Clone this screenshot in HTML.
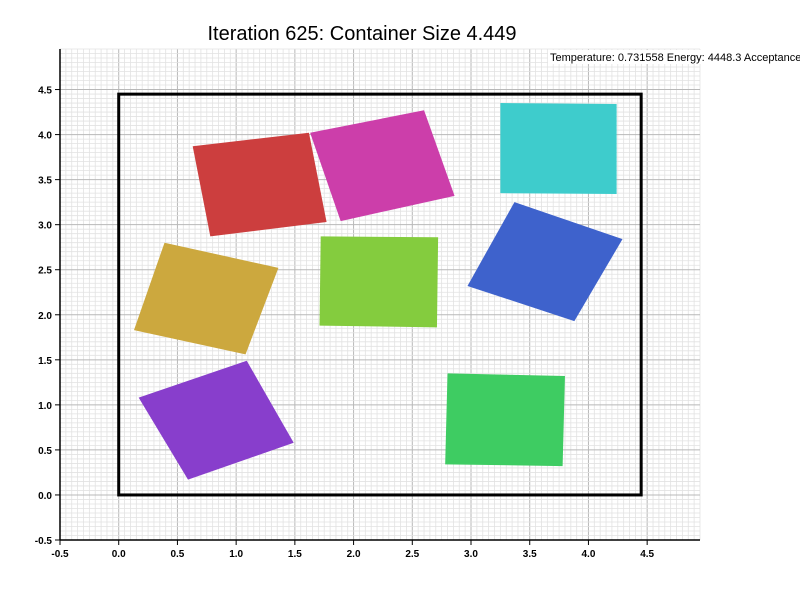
<!DOCTYPE html>
<html><head><meta charset="utf-8"><style>
body{margin:0;background:#fff;width:800px;height:600px;overflow:hidden;font-family:"Liberation Sans",Arial,sans-serif}
</style></head><body>
<svg id="chart" width="800" height="600" xmlns="http://www.w3.org/2000/svg">
<g id="grid"></g><g id="shapes"></g><g id="axes"></g>
<text x="362" y="40" text-anchor="middle" font-size="20" fill="#000">Iteration 625: Container Size 4.449</text>
<rect x="548" y="50" width="252" height="14" fill="#fff"/>
<text x="550" y="61" font-size="11" fill="#000">Temperature: 0.731558 Energy: 4448.3 Acceptance</text>
</svg>
<script>
const xTicks=[-0.5,0,0.5,1,1.5,2,2.5,3,3.5,4,4.5];
const yTicks=[-0.5,0,0.5,1,1.5,2,2.5,3,3.5,4,4.5];
const containerSize=4.449;
const shapeColors=["#cc3e3e","#cc3eaa","#3ecccc","#cca83e","#84cc3e","#3e62cc","#883ecc","#3ecc62"];
const shapeXs=[[0.63,1.62,1.77,0.78],[1.63,2.60,2.86,1.89],[3.25,4.24,4.24,3.25],[0.39,1.36,1.08,0.13],[1.72,2.72,2.71,1.71],[3.37,4.29,3.88,2.97],[0.17,1.09,1.49,0.59],[2.80,3.80,3.78,2.78]];
const shapeYs=[[3.87,4.02,3.03,2.87],[4.02,4.27,3.32,3.04],[4.35,4.34,3.34,3.35],[2.80,2.52,1.56,1.83],[2.87,2.86,1.86,1.88],[3.25,2.84,1.93,2.32],[1.08,1.49,0.58,0.17],[1.35,1.32,0.32,0.34]];
const X0=-0.5,X1=4.95,Y0=-0.5,Y1=4.95,L=60,R=700,T=49,B=540;
const sx=v=>L+(v-X0)/(X1-X0)*(R-L), sy=v=>B-(v-Y0)/(Y1-Y0)*(B-T);
const NS="http://www.w3.org/2000/svg";
function mk(p,t,a){const e=document.createElementNS(NS,t);for(const k in a)e.setAttribute(k,a[k]);p.appendChild(e);return e;}
const grid=document.getElementById('grid'),shapes=document.getElementById('shapes'),axes=document.getElementById('axes');
for(let i=0;i<=109;i++){const v=X0+i*0.05;const maj=i%10==0;const x=sx(v);
 const l=mk(grid,'line',{x1:x,x2:x,y1:T,y2:B,stroke:maj?'#b8b8b8':'#e2e2e2','stroke-width':maj?1:0.8});
 }
for(let i=0;i<=109;i++){const v=Y0+i*0.05;const maj=i%10==0;const y=sy(v);
 const l=mk(grid,'line',{x1:L,x2:R,y1:y,y2:y,stroke:maj?'#b8b8b8':'#e2e2e2','stroke-width':maj?1:0.8});
 }
const box=mk(shapes,'rect',{x:sx(0),y:sy(containerSize),width:sx(containerSize)-sx(0),height:sy(0)-sy(containerSize),fill:'none',stroke:'#000','stroke-width':3});


shapeXs.forEach((xs,i)=>{const pts=xs.map((x,j)=>sx(x)+','+sy(shapeYs[i][j])).join(' ');
 const p=mk(shapes,'polygon',{points:pts,fill:shapeColors[i]});
 
 });
const ax=mk(axes,'line',{x1:L,x2:R,y1:B,y2:B,stroke:'#000','stroke-width':1.5});

const ay=mk(axes,'line',{x1:L,x2:L,y1:T,y2:B,stroke:'#000','stroke-width':1.5});

xTicks.forEach(v=>{const x=sx(v);mk(axes,'line',{x1:x,x2:x,y1:B,y2:B+5,stroke:'#000'});
 const t=mk(axes,'text',{x:x,y:B+17,'text-anchor':'middle','font-size':10,'font-weight':'bold',fill:'#000'});t.textContent=v.toFixed(1);
 });
yTicks.forEach(v=>{const y=sy(v);mk(axes,'line',{x1:L-5,x2:L,y1:y,y2:y,stroke:'#000'});
 const t=mk(axes,'text',{x:L-8,y:y+4,'text-anchor':'end','font-size':10,'font-weight':'bold',fill:'#000'});t.textContent=v.toFixed(1);
 });
</script>
</body></html>
